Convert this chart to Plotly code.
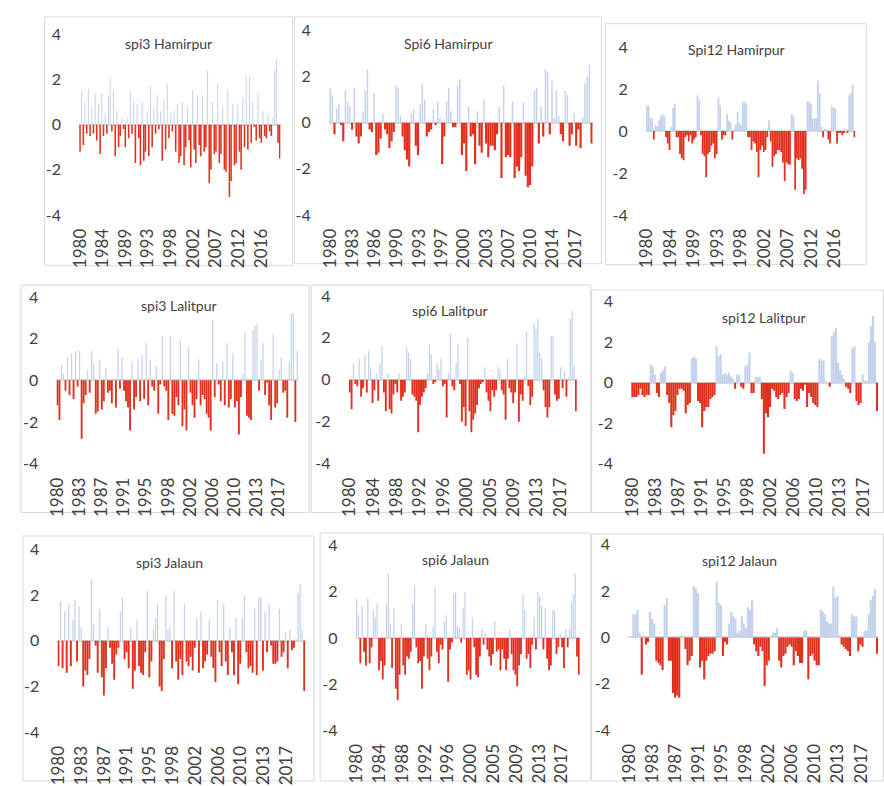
import plotly.graph_objects as go

# ---------------- data (3 values per year, 1980-2019) ----------------
spi3_hamirpur = [
    -1.2, 1.5, -0.9,  1.0, -0.4, 1.6,  -0.5, 0.8, -0.4,  1.4, -0.7, 0.9,
    -1.3, 1.4, -0.5,  0.5, -0.4, 1.3,  2.1, -0.3, 1.5,  -1.4, 0.6, -1.0,
    -0.5, 0.3, -0.2,  -1.0, 0.3, -0.6,  1.5, -0.4, 1.0,  -1.7, 0.9, -0.6,
    -1.8, 1.0, -1.6,  -1.2, 0.6, -1.4,  1.7, -1.0, 0.7,  -0.4, 1.3, -0.2,
    0.6, -1.6, 1.1,  -1.1, 1.8, -0.6,  0.5, -0.3, 0.6,  -1.2, 0.9, -1.7,
    -1.4, 1.0, -1.8,  -1.0, 0.8, -0.7,  -1.9, 1.5, -1.1,  -1.7, 1.3, -0.9,
    -1.4, 1.3, -1.2,  -1.0, 2.4, -2.6,  -2.0, 1.0, -1.3,  -1.2, 1.8, -1.7,
    -1.3, 0.8, -2.0,  -2.1, 1.5, -3.2,  -2.5, 0.9, -1.8,  -1.7, 0.9, -1.2,
    -2.0, 1.2, -1.0,  2.2, -1.1, 2.1,  -0.8, 1.0, -0.1,  -0.7, 1.4, -0.6,
    -0.8, 0.6, -0.5,  -0.6, 0.5, -0.3,  -0.5, 0.3, 2.4,  2.9, -0.8, -1.5,
]
spi6_hamirpur = [
    1.5, 1.2, -0.5,  0.6, 0.8, -0.1,  -0.8, 1.4, 0.9,  0.7, -0.3, 1.5,
    -0.6, -0.9, -0.6,  0.5, 1.4, 2.3,  -0.3, -0.4, 1.3,  -1.4, -1.3, -0.7,
    0.4, -0.3, -0.5,  -1.1, -0.8, -0.4,  1.6, 1.5, 0.3,  -0.6, -1.2, -1.6,
    -1.9, 0.4, 0.6,  -1.0, -1.4, 0.8,  1.7, 1.0, -0.6,  -0.4, -0.3, 0.6,
    -0.1, 0.9, 0.2,  -1.8, -0.6, 0.9,  1.5, 0.5, -0.2,  -0.2, 1.6, 1.9,
    -1.4, -0.9, -2.1,  0.7, -0.6, -0.5,  -1.8, 0.5, -1.0,  -1.3, 1.0, -0.9,
    -1.5, -1.0, -1.0,  -1.2, -0.5, 0.7,  -2.4, 1.6, -1.5,  -1.4, -1.5, 0.9,
    -2.4, -1.9, -2.1,  -1.5, 0.9, -2.3,  -2.8, -2.7, -1.9,  1.4, 1.5, -0.9,
    0.7, -0.6, 2.3,  2.2, -0.5, 1.8,  0.2, 1.4, 0.3,  -0.5, -0.8, 1.4,
    1.2, -1.0, -0.5,  0.4, -1.0, -0.3,  -1.1, 0.2, 1.7,  2.0, 2.5, -0.9,
]
spi12_hamirpur = [
    1.2, 1.2, 0.6,  0.6, -0.4, 0.3,  0.2, 0.5, 0.7,  0.8, 0.7, -0.3,
    -0.6, -0.9, 0.2,  1.1, 1.3, -0.3,  -0.3, -1.1, -1.3,  -1.4, -0.3, -0.2,
    -0.5, -0.2, -0.6,  -0.4, -0.3, 1.7,  1.5, -0.2, -1.1,  -1.2, -2.2, -1.1,
    -1.0, -0.7, -0.6,  -1.3, -1.1, 1.6,  1.2, -0.4, -0.2,  -0.2, 0.8, 0.5,
    0.4, -0.4, 0.1,  0.3, 0.9, 0.4,  0.3, 1.4, 1.4,  1.3, -0.3, -0.3,
    -0.9, -0.5, -0.6,  -1.0, -2.2, -0.9,  -0.7, -1.0, -0.9,  -0.3, 0.5, -0.5,
    -1.7, -1.2, -1.1,  -0.9, -0.9, -1.0,  -1.5, -2.4, -1.5,  -1.6, -1.6, 0.8,
    0.7, -2.8, -1.3,  -1.4, -1.3, -1.8,  -3.0, -2.8, 1.4,  1.4, 1.3, 0.6,
    0.6, 0.6, 2.4,  1.8, 0.2, -0.3,  0.1, 0.1, -0.4,  -0.6, 1.2, 1.1,
    1.1, -0.6, -0.1,  -0.1, -0.2, -0.1,  0.1, -0.1, 1.7,  1.8, 2.2, -0.3,
]
spi3_lalitpur = [
    -1.2, -1.9, 0.7,  0.3, -0.5, 1.1,  -0.7, 1.3, -0.9,  1.4, -0.3, 1.4,
    -2.8, -1.1, -0.7,  0.5, -0.6, 1.4,  0.8, -1.6, -1.5,  1.0, -1.4, -1.0,
    0.6, -0.6, -0.5,  -1.1, 0.1, -1.3,  1.5, -0.4, 1.1,  -0.5, -1.0, -1.3,
    -2.4, 0.9, -1.4,  -0.8, 1.0, -1.0,  1.2, -0.9, 1.8,  -1.2, 1.0, -0.3,
    -0.5, 0.7, -1.6,  -0.2, 2.1, -0.3,  -0.5, -1.9, 2.1,  -1.6, -1.7, -0.8,
    -1.2, 1.9, -2.2,  -1.4, -2.4, 1.6,  -0.6, -1.2, -1.8,  -0.9, 1.0, -1.2,
    -0.7, -0.9, -1.6,  -1.8, -2.4, 2.9,  -0.8, 0.8, -0.2,  -1.0, 0.9, -1.2,
    1.8, -1.3, -0.9,  1.3, -1.3, -1.0,  -2.6, -0.8, 0.3,  2.3, -1.7, -1.8,
    -1.9, 2.4, 2.6,  2.7, -0.5, 1.0,  1.8, -0.7, -0.1,  -1.2, -1.9, 2.2,
    -1.3, -1.1, 0.5,  1.1, -0.6, -0.5,  -1.8, 0.9, 3.2,  3.2, -2.0, 1.4,
]
spi6_lalitpur = [
    -0.6, -1.4, 0.8,  -0.2, -0.3, 1.0,  -0.8, -0.4, 1.2,  -0.6, 1.4, 0.6,
    -1.1, -0.5, 0.3,  -1.0, 0.8, 1.6,  -0.6, -1.5, 0.3,  -1.4, -1.6, -0.7,
    -0.2, -0.6, 0.3,  -1.0, -0.8, -0.6,  1.5, 1.3, 1.0,  -0.7, -0.8, -1.0,
    -2.5, -1.2, -0.8,  -0.6, -0.4, 0.3,  1.7, 1.2, -0.2,  -0.1, 0.8, 0.5,
    1.0, -0.3, -0.2,  -1.8, 0.3, 2.2,  -0.3, -0.5, 0.8,  1.7, -0.2, -2.0,
    -1.3, -2.2, 2.0,  -1.5, -2.5, -1.9,  -1.6, -1.2, -0.4,  -0.2, -0.1, 0.6,
    -0.6, -1.0, -1.5,  -0.5, -0.8, -0.5,  0.6, 0.5, -0.5,  -0.7, -1.9, 1.0,
    -0.4, -0.6, -1.1,  -0.6, 1.7, -2.0,  -0.7, -1.0, 0.2,  2.3, -0.3, -1.2,
    -0.8, 2.7, 2.4,  2.9, 1.3, 1.0,  -0.5, -1.3, -1.8,  -1.3, 2.1, 2.1,
    -0.7, -1.0, -0.9,  0.6, -0.4, 0.4,  -0.8, 0.1, 2.9,  3.3, 0.7, -1.5,
]
spi12_lalitpur = [
    -0.7, -0.7, -0.7,  -0.6, -0.3, -0.6,  -0.7, -0.6, -0.6,  0.9, 0.8, 0.4,
    -0.5, -0.7, 0.5,  0.6, 0.8, -0.6,  -1.0, -2.2, -1.6,  -1.4, -0.6, -0.3,
    -0.3, -0.4, -1.5,  -1.1, -1.0, 1.2,  1.3, 1.2, -0.9,  -1.0, -2.2, -1.4,
    -1.2, -1.2, -0.8,  -0.7, -0.6, 1.8,  1.3, 1.4, 0.4,  0.5, 0.4, 0.5,
    0.3, 0.2, -0.3,  0.4, 0.4, -0.2,  -0.3, 0.8, 0.9,  1.5, -0.5, -0.5,
    0.3, 0.3, 0.3,  -0.8, -3.5, -1.5,  -1.7, -1.2, -0.3,  -0.4, -0.7, -0.8,
    -0.6, -0.5, -1.3,  -0.7, -0.5, 0.6,  0.5, -0.8, -0.9,  -0.8, -0.3, -0.4,
    -0.1, -1.2, -0.5,  -0.7, -1.0, -1.1,  -1.2, 1.2, 1.1,  1.1, 0.1, 0.0,
    -0.2, 2.3, 2.5,  2.7, 1.0, 0.6,  0.4, 0.2, -0.2,  -0.3, -0.5, 1.7,
    1.8, -0.9, -1.1,  -1.0, 0.4, 0.1,  0.1, 2.0, 2.8,  3.3, 2.0, -1.4,
]
spi3_jalaun = [
    -1.1, 1.7, -1.2,  1.3, -1.4, 1.6,  -1.1, 0.9, 1.8,  -0.9, 1.5, 0.6,
    -2.0, -1.3, -1.5,  -0.8, 2.7, 0.7,  -0.2, -1.4, 1.4,  -1.6, -2.4, -1.2,
    0.6, -0.3, -1.0,  -1.7, -0.6, -0.3,  1.3, 1.9, -0.8,  -0.5, -1.2, 0.6,
    -2.1, -1.3, 0.9,  -1.1, -1.4, -1.5,  -0.5, 2.2, -1.6,  -0.9, 0.5, 1.0,
    1.6, -2.0, -2.2,  -0.8, 2.0, 0.5,  0.6, -1.2, 2.2,  -0.9, -1.7, -0.8,
    -1.5, 1.6, -0.9,  -1.1, -0.7, -1.3,  -0.3, 1.0, -1.4,  1.3, -1.2, -0.9,
    -0.6, 0.9, -0.7,  -1.2, -1.8, 1.8,  -0.5, -1.1, 1.6,  -0.9, -1.5, 0.6,
    -0.5, -1.5, 1.0,  -1.9, -1.0, 1.0,  2.0, -0.5, -1.2,  -1.1, -1.4, 1.4,
    -1.5, 1.9, 1.9,  -1.3, 1.3, -0.5,  1.6, -0.2, -1.0,  -1.0, -0.9, 1.4,
    -0.7, -0.5, 0.4,  -1.2, 0.5, -0.4,  -0.3, 0.1, 2.1,  2.5, 0.5, -2.2,
]
spi6_jalaun = [
    1.7, 1.0, -1.1,  1.4, -0.6, -1.2,  1.7, -1.1, -0.4,  1.2, 0.9, 1.5,
    -1.4, -1.0, -1.8,  -1.2, 1.5, 2.8,  0.6, -1.3, 1.3,  -2.2, -2.7, -1.6,
    0.6, -1.2, -1.6,  -0.8, -0.9, -0.6,  1.5, 2.3, -0.4,  -1.1, -1.0, -2.2,
    -0.8, 0.6, -0.9,  -1.4, -0.8, 0.5,  2.2, -0.6, -1.1,  -0.3, -0.5, 0.7,
    1.0, -1.9, -0.5,  -0.2, 1.9, 2.0,  0.5, 0.4, -0.2,  1.3, 2.0, -1.6,
    -1.4, -1.8, 0.9,  -0.4, -1.6, -1.7,  -0.8, 0.4, -0.3,  0.2, -0.5, -0.8,
    -1.2, -0.7, 0.7,  -0.6, -0.5, -1.4,  -0.5, -0.9, -1.4,  -0.9, 0.4, -0.7,
    -1.4, -1.6, -2.1,  -1.2, -0.7, 1.9,  1.2, -0.9, -0.7,  -1.3, -0.3, 0.9,
    -0.5, 2.0, 1.8,  1.4, -0.5, 1.3,  -0.9, -1.4, -1.2,  1.2, 1.2, -0.7,
    -0.4, 0.2, -0.4,  -1.3, 0.4, -0.4,  0.4, 1.5, 1.9,  2.8, -0.8, -1.6,
]
spi12_jalaun = [
    0.0, 0.0, 1.0,  1.0, 1.2, 0.2,  -1.6, 0.1, -0.3,  -0.2, 1.1, 0.8,
    0.6, -1.0, -1.1,  -1.2, -1.4, 1.4,  1.7, -1.0, -1.0,  -2.4, -2.6, -2.5,
    -2.6, 0.1, 0.0,  -0.5, -1.2, -1.0,  -0.8, 2.2, 2.1,  1.9, -1.3, -1.0,
    -1.8, -1.0, -0.8,  -0.7, -0.7, -0.6,  2.4, 1.5, 1.4,  -0.8, -0.2, -0.3,
    0.6, 1.1, 0.9,  0.8, 0.2, 0.3,  0.9, 0.6, 0.4,  1.3, 1.2, 1.6,
    -0.3, -0.6, -0.8,  -0.4, -0.6, -2.1,  -1.2, -1.0, 0.0,  0.2, 0.2, 0.4,
    -1.0, -1.3, -0.8,  -0.7, -0.4, -0.3,  -0.4, -1.2, -0.6,  -0.8, -1.1, -1.1,
    0.3, 0.3, -1.8,  -0.8, -0.7, -1.0,  -1.2, -1.2, 1.2,  1.1, 1.0, 0.7,
    0.6, 0.6, 2.2,  1.7, 1.8, 0.1,  -0.3, -0.4, -0.5,  -0.6, -0.8, 1.0,
    0.9, 0.9, -0.6,  -0.3, -0.4, 0.3,  0.3, 1.0, 1.6,  1.8, 2.1, -0.7,
]

labels_a = ["1980", "1984", "1989", "1993", "1998", "2002", "2007", "2012", "2016"]
labels_b = ["1980", "1983", "1986", "1990", "1993", "1997", "2000", "2003",
            "2007", "2010", "2014", "2017"]
labels_c = ["1980", "1983", "1987", "1991", "1995", "1998", "2002", "2006",
            "2010", "2013", "2017"]
labels_d = ["1980", "1984", "1988", "1992", "1996", "2000", "2005", "2009",
            "2013", "2017"]
y_ticks = [-4, -2, 0, 2, 4]

# ---------------- layout geometry (pixels) ----------------
W, H = 884, 786
panels = [
    dict(v=spi3_hamirpur, lab=labels_a, step=4.5, title="spi3 Hamirpur",
         plot=(69, 273, 25, 210), box=(34, 7, 285, 262), t=(159, 34), w=(0.2, 0.31)),
    dict(v=spi6_hamirpur, lab=labels_b, step=3.38, title="Spi6 Hamirpur",
         plot=(322, 589, 21, 210), box=(287, 7, 598, 260), t=(443, 34), w=(0.22, 0.33)),
    dict(v=spi12_hamirpur, lab=labels_a, step=4.48, title="Spi12 Hamirpur",
         plot=(643, 855, 38, 210), box=(602, 14, 866, 261), t=(735, 40), w=(0.34, 0.34)),
    dict(v=spi3_lalitpur, lab=labels_c, step=3.66, title="spi3 Lalitpur",
         plot=(46, 291, 294, 465), box=(10, 282, 302, 515), t=(170, 303), w=(0.2, 0.31)),
    dict(v=spi6_lalitpur, lab=labels_d, step=4.1, title="spi6 Lalitpur",
         plot=(342, 573, 293, 465), box=(304, 282, 587, 515), t=(445, 308), w=(0.22, 0.33)),
    dict(v=spi12_lalitpur, lab=labels_c, step=3.74, title="spi12 Lalitpur",
         plot=(628, 878, 299, 465), box=(588, 287, 883.5, 515), t=(762, 315), w=(0.34, 0.34)),
    dict(v=spi3_jalaun, lab=labels_c, step=3.68, title="spi3 Jalaun",
         plot=(47, 298, 553, 740), box=(12, 539, 307, 790), t=(160, 566), w=(0.2, 0.31)),
    dict(v=spi6_jalaun, lab=labels_d, step=4.07, title="spi6 Jalaun",
         plot=(349, 576, 549, 738), box=(313, 536, 587, 790), t=(450, 563), w=(0.22, 0.33)),
    dict(v=spi12_jalaun, lab=labels_c, step=3.71, title="spi12 Jalaun",
         plot=(625, 878, 548, 738), box=(588, 537, 883.5, 790), t=(738, 564), w=(0.34, 0.34)),
]

POS = "#c3d2ea"
NEG = "#e0301e"
TXT = "#404040"
FONT = "Lato, 'Open Sans', sans-serif"

fig = go.Figure()
shapes, annotations = [], []
layout = dict(width=W, height=H, margin=dict(l=0, r=0, t=0, b=0),
              paper_bgcolor="white", plot_bgcolor="white", showlegend=False,
              font=dict(family=FONT, color=TXT))

for i, p in enumerate(panels, start=1):
    vals = p["v"]
    xs = [1980 + k / 3 + 1 / 6 for k in range(len(vals))]
    colors = [POS if v >= 0 else NEG for v in vals]
    widths = [p["w"][0] if v >= 0 else p["w"][1] for v in vals]
    sfx = "" if i == 1 else str(i)
    fig.add_trace(go.Bar(x=xs, y=vals, marker=dict(color=colors, line=dict(width=0)),
                         width=widths, xaxis="x" + sfx, yaxis="y" + sfx,
                         hoverinfo="skip"))
    x0, x1, yt, yb = p["plot"]
    tickvals = [1980 + 1 / 6 + k * p["step"] for k in range(len(p["lab"]))]
    layout["xaxis" + sfx] = dict(
        domain=[x0 / W, x1 / W], anchor="y" + sfx, range=[1980, 2020],
        tickmode="array", tickvals=tickvals, ticktext=p["lab"], tickangle=-90,
        showgrid=False, zeroline=False, showline=False, ticks="outside",
        ticklen=6, tickcolor="rgba(0,0,0,0)",
        tickfont=dict(size=17, family=FONT, color=TXT), fixedrange=True)
    layout["yaxis" + sfx] = dict(
        domain=[1 - yb / H, 1 - yt / H], anchor="x" + sfx, range=[-4, 4],
        tickmode="array", tickvals=y_ticks, ticktext=[str(t) for t in y_ticks],
        showgrid=False, zeroline=True, zerolinecolor="#d9d9d9", zerolinewidth=2,
        showline=False, ticks="outside", ticklen=14, tickcolor="rgba(0,0,0,0)",
        tickfont=dict(size=16, family=FONT, color=TXT), fixedrange=True)
    bl, bt, br, bb = p["box"]
    shapes.append(dict(type="rect", xref="paper", yref="paper",
                       x0=bl / W, x1=br / W, y0=1 - bb / H, y1=1 - bt / H,
                       line=dict(color="#d9d9d9", width=1), layer="below"))
    tx, ty = p["t"]
    annotations.append(dict(text=p["title"], xref="paper", yref="paper",
                            x=tx / W, y=1 - ty / H, xanchor="center", yanchor="middle",
                            showarrow=False, font=dict(size=14, family=FONT, color=TXT)))

layout["shapes"] = shapes
layout["annotations"] = annotations
fig.update_layout(**layout)
fig.write_html("out.html",
               config={"displayModeBar": False, "staticPlot": True},
               post_script="document.body.style.margin='0px';"
                           "document.body.style.overflow='hidden';")
